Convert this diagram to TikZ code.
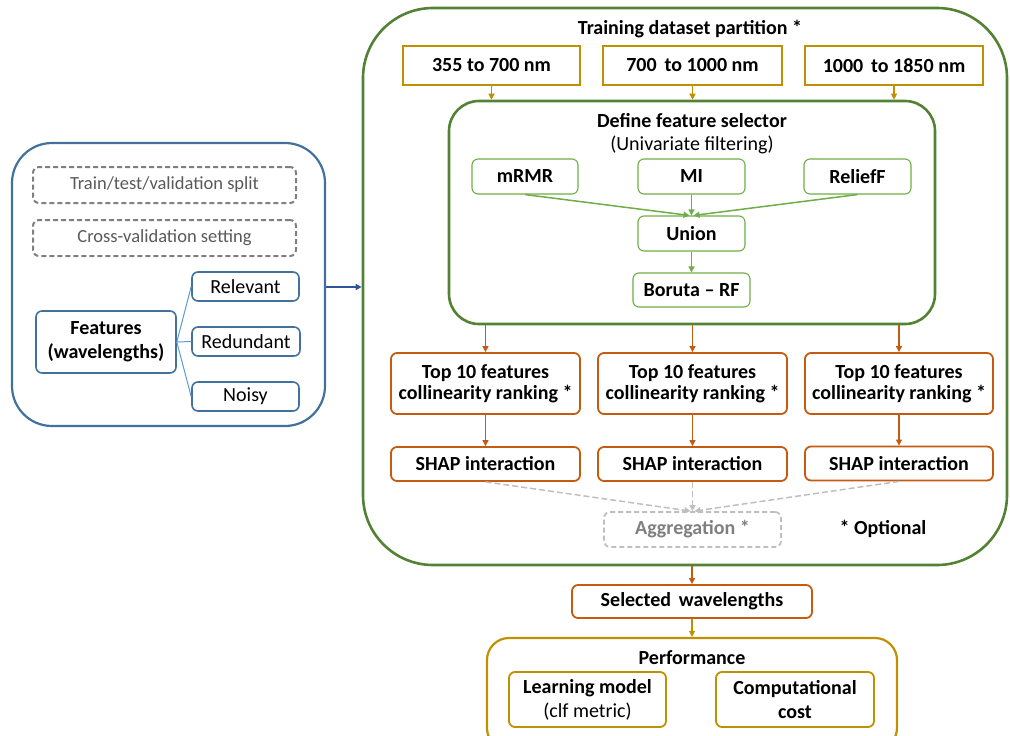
\documentclass[tikz,border=0pt]{standalone}
\usepackage{fontspec}
\setmainfont{Carlito}
\usetikzlibrary{arrows.meta}
\definecolor{bblue}{HTML}{41719C}
\definecolor{lblue}{HTML}{5B9BD5}
\definecolor{dblue}{HTML}{2F5597}
\definecolor{dgreen}{HTML}{548235}
\definecolor{lgreen}{HTML}{70AD47}
\definecolor{gold}{HTML}{BF9000}
\definecolor{orng}{HTML}{C55A11}
\definecolor{dgray}{HTML}{7F7F7F}
\definecolor{lgray}{HTML}{BFBFBF}
\definecolor{tgray}{HTML}{595959}
\tikzset{
  bx/.style={draw, rounded corners=6pt, minimum width=#1, inner sep=0pt, align=center, font=\fontsize{20}{21}\selectfont\bfseries},
  bluebox/.style={bx=#1, draw=bblue, line width=1.6pt, font=\fontsize{20}{21}\selectfont},
  dashbox/.style={draw=dgray, dash pattern=on 5pt off 3pt, line width=2pt, rounded corners=6pt, minimum width=263pt, minimum height=36pt, text=tgray, font=\fontsize{18.5}{20}\selectfont},
  goldbox/.style={bx=#1, draw=gold, line width=1.8pt, rounded corners=0pt},
  gbox/.style={bx=#1, draw=lgreen, line width=1.1pt},
  obox/.style={bx=#1, draw=orng, line width=1.8pt},
  gdbox/.style={bx=#1, draw=gold, line width=1.8pt},
  lbl/.style={font=\fontsize{20}{21}\selectfont\bfseries},
  arr/.style={-{Triangle[length=6pt,width=6pt]}, line width=1.2pt},
}
\begin{document}
\begin{tikzpicture}[x=1pt,y=-1pt]
\useasboundingbox (0,0) rectangle (1010,736);
% left box
\node[draw=bblue, line width=2.2pt, rounded corners=40pt, minimum width=313pt, minimum height=283pt] (L) at (168.5,284.5) {};
\node[dashbox] (split) at (164.5,185) {Train/test/validation split};
\node[dashbox] (cv) at (164.5,238) {Cross-validation setting};
\node[bluebox=140pt, minimum height=62pt, font=\fontsize{20}{24}\selectfont\bfseries] (feat) at (106,342) {Features\\(wavelengths)};
\node[bluebox=107pt, minimum height=29pt] (rel) at (245.5,286.5) {Relevant};
\node[bluebox=108pt, minimum height=29pt] (red) at (246,341.5) {Redundant};
\node[bluebox=107pt, minimum height=29pt] (noisy) at (245.5,396.5) {Noisy};
\draw[lblue, line width=1pt] (feat.east) -- (rel.west);
\draw[lblue, line width=1pt] (feat.east) -- (red.west);
\draw[lblue, line width=1pt] (feat.east) -- (noisy.west);
% big green box
\node[draw=dgreen, line width=2.6pt, rounded corners=70pt, minimum width=644pt, minimum height=557pt] (G) at (685,286.5) {};
\draw[arr, dblue, line width=2pt] ([yshift=-2.5pt]L.east) -- ([yshift=-2.5pt]L.east -| G.west);
\node[lbl] (title) at (690,29) {Training dataset partition *};
\node[goldbox=177pt, minimum height=39pt] (r1) at (491.5,65.5) {355 to 700 nm};
\node[goldbox=179pt, minimum height=39pt] (r2) at (692.5,65.5) {700\, to 1000 nm};
\node[goldbox=178pt, minimum height=39pt] (r3) at (894,65.5) {1000\, to 1850 nm};
% feature selector
\node[draw=dgreen, line width=2.6pt, rounded corners=30pt, minimum width=486pt, minimum height=223pt] (fs) at (692,212.5) {};
\node[lbl] (fst) at (692,121) {Define feature selector};
\node[font=\fontsize{20}{21}\selectfont] (fss) at (692,145) {(Univariate filtering)};
\draw[arr, gold] (r1.south) -- (r1.south |- fs.north);
\draw[arr, gold] (r2.south) -- (r2.south |- fs.north);
\draw[arr, gold] (r3.south) -- (r3.south |- fs.north);
\node[gbox=106pt, minimum height=35pt] (mrmr) at (525,176.5) {mRMR};
\node[gbox=107pt, minimum height=35pt] (mi) at (691.5,176.5) {MI};
\node[gbox=107pt, minimum height=35pt] (relief) at (857.5,176.5) {ReliefF};
\node[gbox=107pt, minimum height=35pt] (union) at (691.5,233.5) {Union};
\node[gbox=117pt, minimum height=34pt] (boruta) at (691.5,290) {Boruta -- RF};
\draw[arr, lgreen, line width=1.5pt] (mrmr.south) -- ([xshift=-2pt]union.north);
\draw[arr, lgreen, line width=1.5pt] (mi.south) -- (union.north);
\draw[arr, lgreen, line width=1.5pt] (relief.south) -- ([xshift=2pt]union.north);
\draw[arr, lgreen, line width=1.5pt] (union.south) -- (boruta.north);
% branches
\node[obox=189pt, minimum height=61pt] (t1) at (485.5,383.5) {Top 10 features\\collinearity ranking *};
\node[obox=189pt, minimum height=61pt] (t2) at (692.5,383.5) {Top 10 features\\collinearity ranking *};
\node[obox=188pt, minimum height=61pt] (t3) at (899,383.5) {Top 10 features\\collinearity ranking *};
\node[obox=189pt, minimum height=34pt] (s1) at (485.5,464) {SHAP interaction};
\node[obox=189pt, minimum height=34pt] (s2) at (692.5,464) {SHAP interaction};
\node[obox=188pt, minimum height=34pt] (s3) at (899,463.5) {SHAP interaction};
\draw[arr, orng] (t1.north |- fs.south) -- (t1.north);
\draw[arr, orng] (t2.north |- fs.south) -- (t2.north);
\draw[arr, orng] (t3.north |- fs.south) -- (t3.north);
\draw[arr, orng] (t1.south) -- (s1.north);
\draw[arr, orng] (t2.south) -- (s2.north);
\draw[arr, orng] (t3.south) -- (s3.north);
\node[bx=177pt, minimum height=35pt, draw=lgray, dash pattern=on 5pt off 3pt, line width=1.8pt, text=dgray] (agg) at (692.5,529.5) {Aggregation *};
\draw[arr, lgray, dash pattern=on 6pt off 3pt, line width=1.5pt] (s1.south) -- ([xshift=-2pt]agg.north);
\draw[arr, lgray, dash pattern=on 6pt off 3pt, line width=1.5pt] (s2.south) -- (agg.north);
\draw[arr, lgray, dash pattern=on 6pt off 3pt, line width=1.5pt] (s3.south) -- ([xshift=2pt]agg.north);
\node[lbl] (opt) at (883,529) {* Optional};
% bottom
\node[obox=240pt, minimum height=33pt] (sel) at (692,601.5) {Selected\, wavelengths};
\draw[arr, orng] (sel.north |- G.south) -- (sel.north);
\node[draw=gold, line width=2.2pt, rounded corners=22pt, minimum width=410pt, minimum height=112pt] (perf) at (692,694) {};
\draw[arr, gold] (sel.south) -- (sel.south |- perf.north);
\node[lbl] (pt) at (692,658) {Performance};
\node[gdbox=157pt, minimum height=55pt, font=\fontsize{20}{24}\selectfont] (lm) at (587.5,699.5) {\textbf{Learning model}\\(clf metric)};
\node[gdbox=158pt, minimum height=55pt, font=\fontsize{20}{24}\selectfont\bfseries] (cc) at (795,699.5) {Computational\\cost};
\end{tikzpicture}
\end{document}
